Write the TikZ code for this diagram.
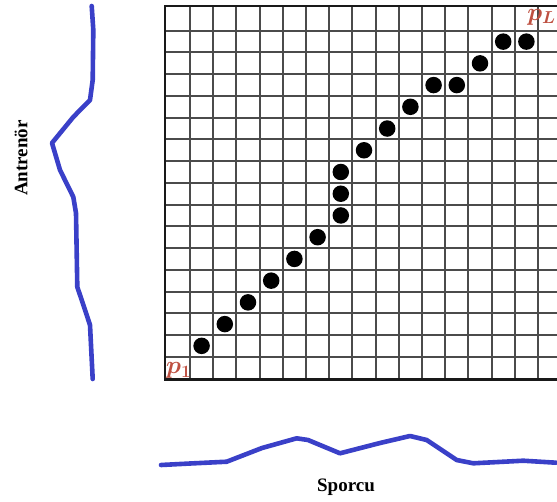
\documentclass[tikz,border=0pt]{standalone}
\usepackage{fontspec}
\setmainfont{Liberation Serif}
\begin{document}
\begin{tikzpicture}[x=1pt,y=-1pt,
  gridline/.style={draw={rgb,255:red,75;green,75;blue,75}, line width=2pt},
  border/.style={draw={rgb,255:red,25;green,25;blue,25}, line width=2.6pt, line join=miter},
  dot/.style={circle, fill=black, inner sep=0pt, minimum size=16.5pt},
  wave/.style={draw={rgb,255:red,58;green,64;blue,200}, line width=4.6pt, line join=round, line cap=round},
  plabel/.style={text={rgb,255:red,190;green,80;blue,65}, font=\fontsize{23}{25}\selectfont\boldmath, inner sep=0pt},
  axislabel/.style={font=\fontsize{19}{22}\selectfont\bfseries, inner sep=0pt}]
\useasboundingbox (0,0) rectangle (557,501);
\clip (0,0) rectangle (557,501);
% grid
\foreach \i in {0,...,15} \draw[gridline] ({round(190+23.2*\i)},6) -- ({round(190+23.2*\i)},379.5);
\foreach \j in {0,...,15} \draw[gridline] (165,{round(356.7-21.73*\j)}) -- (562,{round(356.7-21.73*\j)});
\draw[border] (562,6) -- (165,6) -- (165,379.5) -- (562,379.5);
% dots
\foreach \c/\r [count=\k] in {1/1,2/2,3/3,4/4,5/5,6/6,7/7,7/8,7/9,8/10,9/11,10/12,11/13,12/13,13/14,14/15,15/15}
  \node[dot] (d\k) at ({190+23.2*(\c-0.5)},{356.7-21.73*(\r-0.5)}) {};
% labels
\node[plabel, anchor=south west] (pone) at (166,379) {$p_1$};
\node[plabel, anchor=north east] (pL) at (556,9) {$p_L$};
% left curve
\draw[wave] (91.7,6) -- (93.3,30) -- (92.7,80) -- (90,100) -- (73.3,117) -- (52,143)
  -- (60,170) -- (73.3,197) -- (76,213) -- (77.3,287) -- (81.7,300) -- (90,325) -- (92.7,379);
% bottom curve
\draw[wave] (161,465) -- (190,463.5) -- (226.7,461.7) -- (262,448) -- (296.7,438.3) -- (308,440)
  -- (340,453.3) -- (380,443) -- (410,436) -- (426.7,440) -- (456.7,460) -- (473.3,463.3)
  -- (523.3,460.7) -- (556,462.7);
% axis labels
\node[axislabel, rotate=90] (antrenor) at (21,158) {Antrenör};
\node[axislabel] (sporcu) at (346,487) {Sporcu};
\end{tikzpicture}
\end{document}
